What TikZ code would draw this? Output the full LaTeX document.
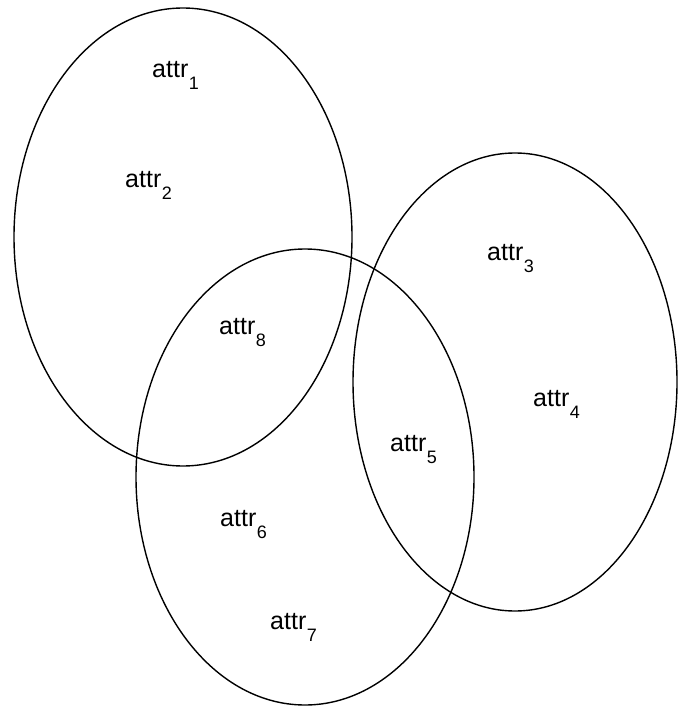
\documentclass[tikz,border=0pt]{standalone}
\usepackage{fontspec}
\setmainfont{Liberation Sans}
\newcommand{\attrlab}[1]{attr\kern0.5pt\raisebox{-12pt}{\fontsize{18}{18}\selectfont #1}}
\begin{document}
\begin{tikzpicture}[x=1pt,y=-1pt,
  setell/.style={draw=black,line width=1.4pt},
  lab/.style={anchor=base west,inner sep=0pt,font=\fontsize{25}{25}\selectfont}]
\useasboundingbox (0,0) rectangle (678,708);
\draw[setell] (183,237) ellipse [x radius=169, y radius=229];
\draw[setell] (515,382) ellipse [x radius=162, y radius=229];
\draw[setell] (305,477) ellipse [x radius=169, y radius=228];
\node[lab] (a1) at (152,78) {\attrlab{1}};
\node[lab] (a2) at (125,188) {\attrlab{2}};
\node[lab] (a3) at (487,261) {\attrlab{3}};
\node[lab] (a4) at (533,406) {\attrlab{4}};
\node[lab] (a5) at (390,451) {\attrlab{5}};
\node[lab] (a6) at (220,526) {\attrlab{6}};
\node[lab] (a7) at (270,629) {\attrlab{7}};
\node[lab] (a8) at (219,334) {\attrlab{8}};
\end{tikzpicture}
\end{document}
